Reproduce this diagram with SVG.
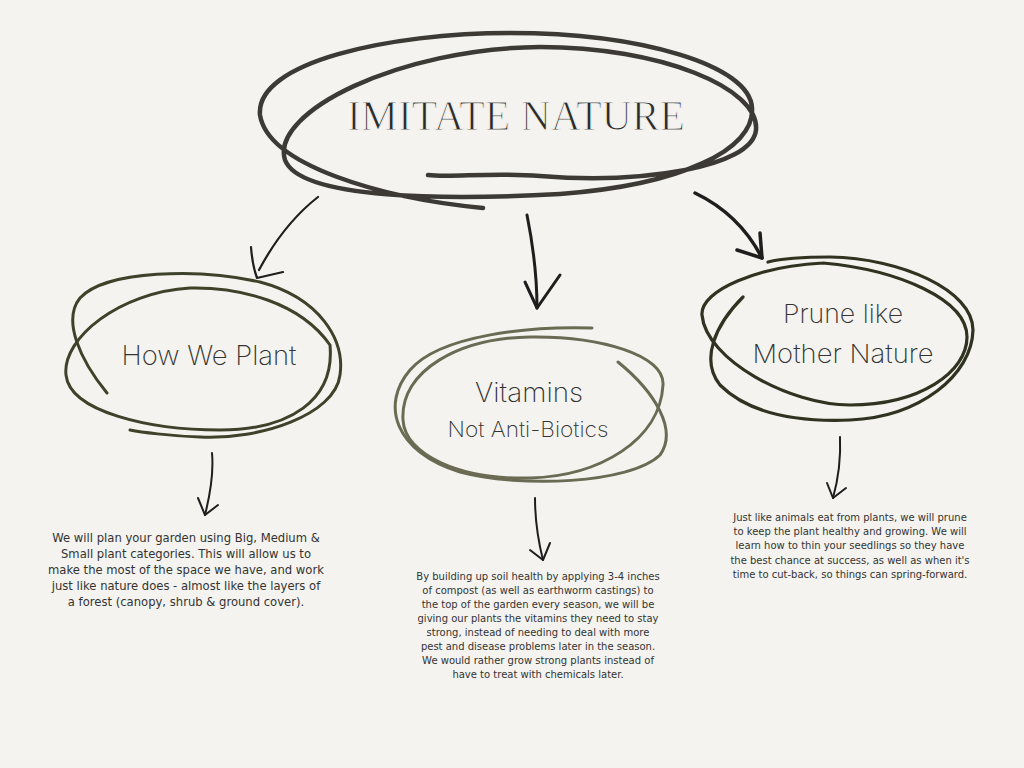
<svg xmlns="http://www.w3.org/2000/svg" width="1024" height="768" viewBox="0 0 1024 768">
<style>
.bg{fill:#f4f3ef}
.scr{fill:none;stroke-linecap:round;stroke-linejoin:round}
.top{stroke:#3d3a35;stroke-width:4.5}
.h{stroke:#3e4229;stroke-width:3}
.v{stroke:#6b6b54;stroke-width:3}
.p{stroke:#2f3320;stroke-width:3.2}
.arr{fill:none;stroke:#1e1e1e;stroke-linecap:round;stroke-linejoin:round}
.title{font-family:"Liberation Serif",serif;font-size:42px;fill:#2a2a2a;text-anchor:middle;stroke:#f4f3ef;stroke-width:1.1}
.lbl{font-family:Inter,"DejaVu Sans",sans-serif;font-weight:200;fill:#333;text-anchor:middle}
.body{font-family:"DejaVu Sans",sans-serif;fill:#333;text-anchor:middle}
.bl{font-size:11.6px}
.bm{font-size:10px}
.br{font-size:10px}
</style>
<rect class="bg" width="1024" height="768"/>
<g id="imitate-nature">
<path class="scr top" d="M483 208 C380 198 268 165 260 115 C255 62 390 33 510 33 C640 33 750 65 752 108 C755 150 680 185 560 194 C450 200 300 200 285 160 C270 112 400 48 540 47 C660 47 760 88 756 130 C752 168 640 184 540 176 C490 172 450 178 428 175"/>
<text class="title" x="516" y="130" textLength="338" lengthAdjust="spacingAndGlyphs">IMITATE NATURE</text>
</g>
<g id="how-we-plant">
<path class="scr h" d="M107 393 C80 360 62 320 80 298 C105 270 200 268 260 282 C320 298 345 340 340 375 C335 415 260 440 200 437 C170 436 140 432 130 430"/>
<path class="scr h" d="M330 345 C300 302 240 287 190 288 C120 292 62 338 66 375 C70 412 150 430 220 430 C290 430 335 400 330 345"/>
<text class="lbl" x="209" y="365" font-size="27" textLength="175" lengthAdjust="spacingAndGlyphs">How We Plant</text>
</g>
<g id="vitamins">
<path class="scr v" d="M592 328 C530 326 440 335 410 370 C380 405 395 452 460 472 C520 488 630 484 660 455 C678 430 655 392 618 362"/>
<path class="scr v" d="M403 420 C400 370 460 338 530 337 C600 336 665 355 663 385 C660 440 600 476 530 478 C460 480 405 455 403 420"/>
<text class="lbl" x="529" y="402" font-size="27" textLength="108" lengthAdjust="spacingAndGlyphs">Vitamins</text>
<text class="lbl" x="528" y="437" font-size="21" textLength="161" lengthAdjust="spacingAndGlyphs">Not Anti-Biotics</text>
</g>
<g id="prune">
<path class="scr p" d="M743 297 C715 325 700 360 720 385 C750 415 800 422 850 420 C920 417 972 375 973 330 C973 290 900 258 830 257 C800 257 780 259 768 262"/>
<path class="scr p" d="M823 263 C760 266 700 290 702 315 C706 360 790 405 850 405 C920 405 967 372 967 337 C967 300 900 270 823 263"/>
<text class="lbl" x="843" y="323" font-size="26" textLength="120" lengthAdjust="spacingAndGlyphs">Prune like</text>
<text class="lbl" x="843" y="363" font-size="26" textLength="181" lengthAdjust="spacingAndGlyphs">Mother Nature</text>
</g>
<g id="connectors">
<path class="arr" stroke-width="2.2" d="M318 197 C295 215 275 240 259 270"/>
<path class="arr" stroke-width="2.2" d="M251 247 C252 260 254 270 257 278 L283 272"/>
<path class="arr" stroke-width="3" d="M527 215 C533 245 537 275 537 308"/>
<path class="arr" stroke-width="3" d="M525 282 L537 308 L560 275"/>
<path class="arr" stroke-width="3.5" d="M695 193 C720 205 745 225 762 258"/>
<path class="arr" stroke-width="3.5" d="M737 250 L762 258 L760 233"/>
<path class="arr" stroke-width="2" d="M212 453 C214 475 210 495 205 515"/>
<path class="arr" stroke-width="2" d="M198 498 L205 515 L218 505"/>
<path class="arr" stroke-width="2" d="M535 498 C535 520 538 540 543 560"/>
<path class="arr" stroke-width="2" d="M530 550 L543 560 L550 543"/>
<path class="arr" stroke-width="2" d="M840 437 C841 460 838 480 833 498"/>
<path class="arr" stroke-width="2" d="M827 483 L833 498 L846 488"/>
</g>
<g id="text-left">
<text class="body bl" x="186" y="542">We will plan your garden using Big, Medium &amp;</text>
<text class="body bl" x="186" y="558">Small plant categories. This will allow us to</text>
<text class="body bl" x="186" y="574">make the most of the space we have, and work</text>
<text class="body bl" x="186" y="590">just like nature does - almost like the layers of</text>
<text class="body bl" x="186" y="606">a forest (canopy, shrub &amp; ground cover).</text>
</g>
<g id="text-middle">
<text class="body bm" x="538" y="580">By building up soil health by applying 3-4 inches</text>
<text class="body bm" x="538" y="594">of compost (as well as earthworm castings) to</text>
<text class="body bm" x="538" y="608">the top of the garden every season, we will be</text>
<text class="body bm" x="538" y="622">giving our plants the vitamins they need to stay</text>
<text class="body bm" x="538" y="636">strong, instead of needing to deal with more</text>
<text class="body bm" x="538" y="650">pest and disease problems later in the season.</text>
<text class="body bm" x="538" y="664">We would rather grow strong plants instead of</text>
<text class="body bm" x="538" y="678">have to treat with chemicals later.</text>
</g>
<g id="text-right">
<text class="body br" x="850" y="521">Just like animals eat from plants, we will prune</text>
<text class="body br" x="850" y="535">to keep the plant healthy and growing. We will</text>
<text class="body br" x="850" y="549">learn how to thin your seedlings so they have</text>
<text class="body br" x="850" y="564">the best chance at success, as well as when it's</text>
<text class="body br" x="850" y="578">time to cut-back, so things can spring-forward.</text>
</g>
</svg>
